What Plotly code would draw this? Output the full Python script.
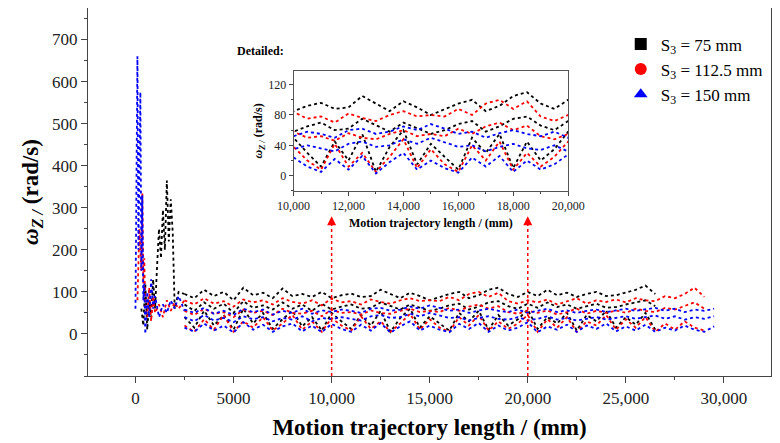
import plotly.graph_objects as go

# ---------------- data ----------------
# transient (start-up) segment
blk_tx = [300,400,500,600,700,800,900,1000,1100,1200,1300,1400,1500,1600,1700,1800,1900,2000,2200,2500]
blk_ty = [60,20,120,10,80,40,130,60,160,250,180,295,200,365,220,320,240,60,100,95]
red_tx = [100,200,300,350,400,450,500,600,700,800,900,1000,1200,1400,1600,1800,2000,2200,2500]
red_ty = [80,250,150,335,120,180,60,40,110,30,90,50,70,40,80,55,75,60,80]
blu_tx = [0,50,100,150,200,250,300,350,400,450,500,600,700,800,900,1000,1200,1400,1600,1800,2000,2200,2500]
blu_ty = [60,300,660,200,450,575,150,330,80,120,0,100,40,130,60,90,40,70,50,80,60,90,55]

# steady segment, sampled every 500 mm from 2500 mm
steady_x = [2500 + 500 * i for i in range(55)]
blk_hi = [95,85,105,90,100,80,110,92,98,85,108,90,95,88,100,85,92,96,88,90,105,95,85,98,90,80,88,95,100,85,
          92,105,110,95,88,100,90,105,92,98,88,95,100,90,92,98,105,115,95]
blk_mid = [70,55,75,60,72,50,78,62,68,58,75,60,70,55,72,58,65,70,60,62,75,66,58,70,62,55,60,68,72,58,
           65,75,78,66,60,72,62,75,64,70,60,66,72,62,64,70,75,80,66]
blk_lo = [40,15,55,20,45,10,60,25,50,12,35,55,18,40,8,50,30,12,45,20,55,5,38,60,15,42,25,8,50,30,
          55,10,45,20,35,58,12,40,25,50,8,45,30,55,15,40,22,50,10]
red_hi = [80,70,85,72,78,65,82,75,80,70,85,76,72,80,68,84,75,78,70,82,76,72,80,85,78,80,78,88,80,95,
          100,88,98,78,72,80,75,82,70,78,85,72,80,76,82,75,85,80,78,90,85,95,110,88]
red_mid = [55,45,60,48,52,40,58,50,55,45,60,50,48,55,42,58,50,52,46,56,50,48,55,60,52,55,52,62,55,65,
           70,60,66,52,48,55,50,56,46,52,60,48,55,50,56,50,60,55,52,62,58,66,75,60]
red_lo = [20,5,35,10,45,5,30,15,40,8,25,45,10,30,5,38,20,8,42,12,30,5,25,48,10,35,15,5,40,20,
          45,8,30,12,25,45,5,35,15,40,5,30,20,45,10,35,15,40,5,25,10,30,15,8]
blu_hi = [58,50,62,48,55,45,60,52,58,46,55,50,60,48,56,52,58,55,50,60,62,55,58,65,60,68,62,55,58,50,
          56,60,55,52,58,50,55,60,52,56,50,55,58,52,56,60,55,58,62,55,60,52,58,55,60]
blu_mid = [40,30,45,32,38,28,42,35,40,30,38,34,42,30,38,35,40,36,32,42,45,38,40,48,42,50,44,38,40,32,
           38,42,36,34,40,32,36,42,34,38,32,36,40,34,38,42,36,40,44,36,42,34,40,36,42]
blu_lo = [15,5,25,8,20,3,28,10,22,5,18,25,6,20,4,24,12,5,22,8,26,3,18,30,8,20,10,4,24,12,
          26,5,20,8,15,28,4,18,10,22,5,20,12,25,6,18,8,22,5,15,8,20,10,5,18]

series = [
    ("S<sub>3</sub> = 75 mm", "black", "square", blk_tx, blk_ty, [blk_hi, blk_mid, blk_lo]),
    ("S<sub>3</sub> = 112.5 mm", "red", "circle", red_tx, red_ty, [red_hi, red_mid, red_lo]),
    ("S<sub>3</sub> = 150 mm", "blue", "triangle-up", blu_tx, blu_ty, [blu_hi, blu_mid, blu_lo]),
]

main_xticks = [0, 5000, 10000, 15000, 20000, 25000, 30000]
main_xlabels = ["0", "5000", "10,000", "15,000", "20,000", "25,000", "30,000"]
inset_xticks = [10000, 12000, 14000, 16000, 18000, 20000]
inset_xlabels = ["10,000", "12,000", "14,000", "16,000", "18,000", "20,000"]
arrow_x = [10000, 20000]

# ---------------- figure ----------------
fig = go.Figure()
FONT = "Liberation Serif"

for name, col, sym, tx, ty, bands in series:
    for axes in (("x", "y"), ("x2", "y2")):
        fig.add_trace(go.Scatter(x=tx, y=ty, mode="lines", xaxis=axes[0], yaxis=axes[1],
                                 line=dict(color=col, width=1.8, dash="dot"), showlegend=False))
        for b in bands:
            fig.add_trace(go.Scatter(x=steady_x[:len(b)], y=b, mode="lines", xaxis=axes[0], yaxis=axes[1],
                                     line=dict(color=col, width=1.8, dash="dot"), showlegend=False))
    fig.add_trace(go.Scatter(x=[None], y=[None], mode="markers", name=name,
                             marker=dict(color=col, symbol=sym, size=7)))

for ax in arrow_x:
    fig.add_trace(go.Scatter(x=[ax, ax], y=[-100, 265], mode="lines", showlegend=False,
                             line=dict(color="red", width=1.5, dash="dot")))
    fig.add_annotation(x=ax, y=280, ax=ax, ay=255, xref="x", yref="y", axref="x", ayref="y",
                       text="", showarrow=True, arrowhead=2, arrowsize=1.2, arrowwidth=1.5, arrowcolor="red")

tick_font = dict(family=FONT, size=17, color="#222")
fig.update_layout(
    width=780, height=443, margin=dict(l=80, r=10, t=0, b=75),
    plot_bgcolor="white", paper_bgcolor="white",
    font=dict(family=FONT),
    xaxis=dict(range=[-2420, 32400], tickvals=main_xticks, ticktext=main_xlabels, tickfont=tick_font,
               automargin=False,
               showgrid=False, zeroline=False, showline=True, linecolor="#444", linewidth=1.2, mirror=True,
               ticks="outside", ticklen=6, minor=dict(dtick=2500, ticks="outside", ticklen=3),
               title=dict(text="<b>Motion trajectory length / (mm)</b>", font=dict(family=FONT, size=23, color="black"),
                          standoff=12)),
    yaxis=dict(range=[-100, 775], tickvals=[0, 100, 200, 300, 400, 500, 600, 700], tickfont=tick_font,
               automargin=False,
               showgrid=False, zeroline=False, showline=True, linecolor="#444", linewidth=1.2, mirror=True,
               ticks="outside", ticklen=6, minor=dict(dtick=50, ticks="outside", ticklen=3),
               title=dict(text="<b><i>ω</i><sub><i>Z /</i></sub> (rad/s)</b>", font=dict(family=FONT, size=23, color="black"),
                          standoff=6)),
    xaxis2=dict(domain=[0.301, 0.703], anchor="y2", range=[10000, 20000], tickvals=inset_xticks,
                ticktext=inset_xlabels, tickfont=dict(family=FONT, size=12, color="#222"),
                showgrid=False, zeroline=False, showline=True, linecolor="#555", mirror=True,
                ticks="outside", ticklen=4, minor=dict(dtick=1000, ticks="outside", ticklen=2),
                title=dict(text="<b>Motion trajectory length / (mm)</b>", font=dict(family=FONT, size=12, color="black"),
                           standoff=6)),
    yaxis2=dict(domain=[0.503, 0.829], anchor="x2", range=[-20, 138], tickvals=[0, 40, 80, 120],
                tickfont=dict(family=FONT, size=12, color="#222"),
                showgrid=False, zeroline=False, showline=True, linecolor="#555", mirror=True,
                ticks="outside", ticklen=4, minor=dict(dtick=20, ticks="outside", ticklen=2),
                title=dict(text="<b><i>ω</i><sub><i>Z /</i></sub> (rad/s)</b>", font=dict(family=FONT, size=12, color="black"),
                           standoff=2)),
    legend=dict(x=0.78, y=0.95, xanchor="left", yanchor="top", bgcolor="rgba(0,0,0,0)",
                font=dict(family=FONT, size=17, color="black"), itemsizing="constant", tracegroupgap=6),
)
fig.add_annotation(x=0.215, y=0.86, xref="paper", yref="paper", xanchor="left", yanchor="bottom",
                   text="<b>Detailed:</b>", showarrow=False, font=dict(family=FONT, size=12, color="black"))

fig.write_html("out.html")
